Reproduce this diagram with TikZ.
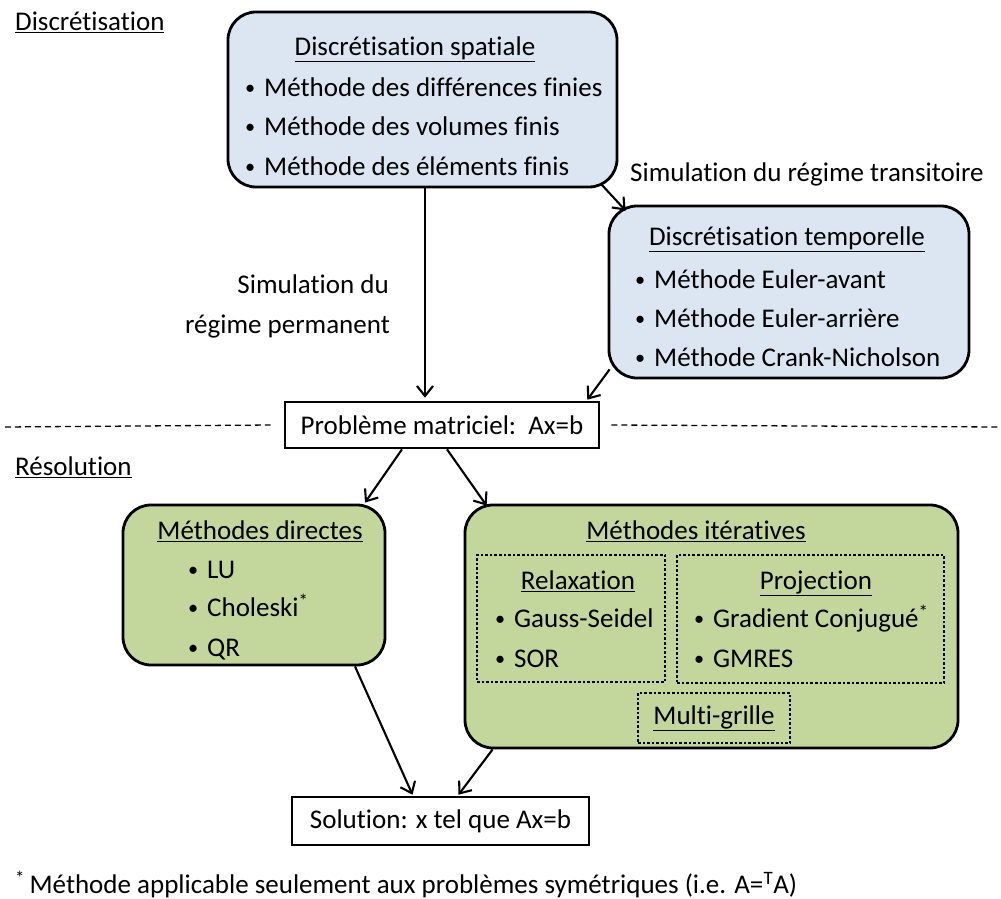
\documentclass[tikz,border=0pt]{standalone}
\usepackage{fontspec}
\usepackage{graphicx}
\setmainfont{Carlito}[Ligatures={NoCommon},Contextuals={NoAlternate}]
\usetikzlibrary{arrows.meta}
\definecolor{bluef}{RGB}{220,230,242}
\definecolor{greenf}{RGB}{195,214,155}
\newcommand{\itm}[1]{\makebox[21pt][l]{\hspace{2pt}\raisebox{1.5pt}{\scalebox{0.75}{•}}}#1}
\begin{document}
\begin{tikzpicture}[x=1pt,y=-1pt,
 font=\fontsize{27}{30}\selectfont,
 box/.style={draw,line width=2.8pt,rounded corners=28pt,inner sep=0pt},
 plain/.style={draw,line width=2.6pt,inner sep=0pt},
 dotbox/.style={draw,line width=2.6pt,dotted,inner sep=0pt},
 lt/.style={inner sep=0pt,anchor=mid west,yshift=-6pt},
 rt/.style={inner sep=0pt,anchor=mid east,yshift=-6pt},
 ct/.style={inner sep=0pt,anchor=mid,yshift=-6pt},
 arr/.style={line width=2.1pt,-{Straight Barb[length=10pt,width=16pt,line width=2.1pt]}}]
\useasboundingbox (0,0) rectangle (1001,899);

% boxes
\node[box,fill=bluef,minimum width=389pt,minimum height=175pt] (sp) at (422.5,99.5) {};
\node[box,fill=bluef,minimum width=360pt,minimum height=172pt] (tp) at (789,292) {};
\node[plain,fill=white,minimum width=314pt,minimum height=46pt] (mat) at (442,425) {Problème matriciel:\ \ Ax=b};
\node[box,fill=greenf,minimum width=262pt,minimum height=160pt] (dir) at (254,585) {};
\node[box,fill=greenf,minimum width=493pt,minimum height=243pt] (it) at (711.5,626.5) {};
\node[dotbox,minimum width=188pt,minimum height=127pt] (rel) at (571,618.5) {};
\node[dotbox,minimum width=267pt,minimum height=128pt] (proj) at (810.5,619) {};
\node[dotbox,minimum width=152pt,minimum height=50pt] (mg) at (714,718) {\underline{Multi-grille}};
\node[plain,fill=white,minimum width=297pt,minimum height=48pt] (sol) at (440.5,821) {Solution: x tel que Ax=b};

% texts
\node[lt] (lab1) at (15,22) {\underline{Discrétisation}};
\node[lt] (lab2) at (15,467) {\underline{Résolution}};
\node[ct] (spt) at (415,47) {\underline{Discrétisation spatiale}};
\node[lt] (sp1) at (243,88) {\itm{Méthode des différences finies}};
\node[lt] (sp2) at (243,127) {\itm{Méthode des volumes finis}};
\node[lt] (sp3) at (243,167) {\itm{Méthode des éléments finis}};
\node[lt] (trans) at (630,173) {Simulation du régime transitoire};
\node[ct] (tpt) at (787,237) {\underline{Discrétisation temporelle}};
\node[lt] (tp1) at (633,280) {\itm{Méthode Euler-avant}};
\node[lt] (tp2) at (633,319) {\itm{Méthode Euler-arrière}};
\node[lt] (tp3) at (633,358) {\itm{Méthode Crank-Nicholson}};
\node[rt] (perm1) at (389,285) {Simulation du};
\node[rt] (perm2) at (390,325) {régime permanent};
\node[ct] (dirt) at (260,531) {\underline{Méthodes directes}};
\node[lt] (d1) at (186,570) {\itm{LU}};
\node[lt] (d2) at (186,608) {\itm{Choleski\textsuperscript{*}}};
\node[lt] (d3) at (186,648) {\itm{QR}};
\node[ct] (itt) at (696,531) {\underline{Méthodes itératives}};
\node[ct] (relt) at (578,581) {\underline{Relaxation}};
\node[lt] (r1) at (493,619) {\itm{Gauss-Seidel}};
\node[lt] (r2) at (493,659) {\itm{SOR}};
\node[ct] (projt) at (816,581) {\underline{Projection}};
\node[lt] (p1) at (692,619) {\itm{Gradient Conjugué\textsuperscript{*}}};
\node[lt] (p2) at (692,659) {\itm{GMRES}};
\node[lt] (foot) at (15,885) {\textsuperscript{*}\,Méthode applicable seulement aux problèmes symétriques (i.e. A=\textsuperscript{T}A)};

% dashed separator
\coordinate (dl) at (5,427);
\coordinate (dr) at (1001,427);
\draw[line width=1.3pt,dash pattern=on 6pt off 4pt] (dl) -- ([xshift=-13pt]mat.west);
\draw[line width=1.3pt,dash pattern=on 6pt off 4pt] ([xshift=11pt]mat.east) -- (dr);

% arrows
\draw[arr] ([xshift=2.5pt]sp.south) -- ([xshift=-17pt,yshift=3pt]mat.north);
\draw[arr] ([xshift=-17pt,yshift=4pt]sp.south east) -- ([xshift=18pt,yshift=-6pt]tp.north west);
\draw[arr] ([xshift=2pt,yshift=10pt]tp.south west) -- ([xshift=-13pt,yshift=1pt]mat.north east);
\draw[arr] ([xshift=-40pt]mat.south) -- ([xshift=111pt,yshift=1pt]dir.north);
\draw[arr] ([xshift=5pt]mat.south) -- ([xshift=23pt,yshift=-2pt]it.north west);
\draw[arr] ([xshift=101pt]dir.south) -- ([xshift=-28pt,yshift=1pt]sol.north);
\draw[arr] ([xshift=29pt]it.south west) -- ([xshift=18pt,yshift=1pt]sol.north);
\end{tikzpicture}
\end{document}
